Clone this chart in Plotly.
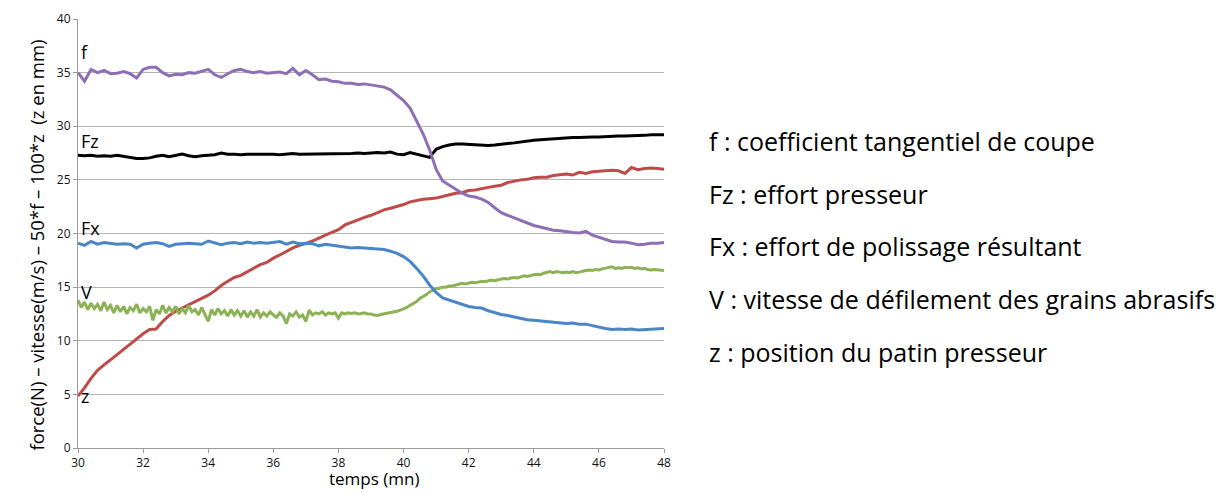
import plotly.graph_objects as go

# time axis shared by f, Fz, Fx, z (minutes, step 0.2)
temps = [round(30 + 0.2 * i, 1) for i in range(91)]
# time axis for V (finer, step 0.1)
temps_v = [round(30 + 0.1 * i, 1) for i in range(181)]

f_vals = [
    35.0, 34.2, 35.3, 35.0, 35.2, 34.9, 34.95, 35.1, 34.9, 34.5,
    35.3, 35.5, 35.5, 35.0, 34.7, 34.85, 34.8, 35.0, 34.95, 35.1,
    35.3, 34.8, 34.55, 34.9, 35.2, 35.3, 35.1, 35.0, 35.1, 34.95,
    35.0, 35.05, 34.9, 35.4, 34.8, 35.2, 34.8, 34.35, 34.4, 34.2,
    34.15, 34.0, 34.0, 33.9, 33.95, 33.85, 33.75, 33.65, 33.4, 32.9,
    32.4, 31.7, 30.5, 29.3, 27.8, 26.0, 24.9, 24.5, 24.1, 23.75,
    23.5, 23.4, 23.2, 22.9, 22.4, 21.95, 21.7, 21.45, 21.2, 20.95,
    20.75, 20.6, 20.45, 20.3, 20.25, 20.15, 20.1, 20.05, 20.2, 19.85,
    19.65, 19.45, 19.25, 19.2, 19.2, 19.1, 18.95, 19.0, 19.1, 19.1,
    19.15,
]

fz_vals = [
    27.3, 27.25, 27.3, 27.2, 27.25, 27.2, 27.3, 27.2, 27.1, 27.0,
    27.0, 27.05, 27.2, 27.3, 27.15, 27.3, 27.4, 27.25, 27.15, 27.25,
    27.3, 27.35, 27.5, 27.4, 27.4, 27.35, 27.4, 27.4, 27.45, 27.4,
    27.4, 27.35, 27.4, 27.45, 27.4, 27.4, 27.45, 27.4, 27.45, 27.45,
    27.4, 27.45, 27.45, 27.5, 27.45, 27.5, 27.55, 27.5, 27.6, 27.4,
    27.35, 27.55, 27.4, 27.3, 27.1, 27.85, 28.1, 28.25, 28.35, 28.35,
    28.3, 28.25, 28.2, 28.2, 28.25, 28.35, 28.4, 28.45, 28.55, 28.65,
    28.7, 28.75, 28.8, 28.85, 28.9, 28.9, 28.95, 28.95, 29.0, 29.0,
    29.0, 29.05, 29.05, 29.1, 29.1, 29.1, 29.15, 29.15, 29.2, 29.2,
    29.2,
]

fx_vals = [
    19.1, 18.9, 19.25, 19.0, 19.15, 19.05, 19.0, 19.05, 19.0, 18.65,
    19.0, 19.1, 19.15, 19.05, 18.8, 19.0, 19.05, 19.1, 19.05, 19.0,
    19.3, 19.1, 18.95, 19.1, 19.15, 19.05, 19.2, 19.1, 19.15, 19.1,
    19.15, 19.25, 19.0, 19.2, 19.05, 19.1, 19.05, 18.85, 19.0, 18.9,
    18.85, 18.7, 18.65, 18.7, 18.65, 18.6, 18.55, 18.5, 18.35, 18.15,
    17.85, 17.4, 16.75, 16.05, 15.2, 14.5, 14.0, 13.8, 13.65, 13.45,
    13.2, 13.1, 13.05, 12.8, 12.6, 12.45, 12.35, 12.2, 12.05, 11.95,
    11.9, 11.85, 11.8, 11.75, 11.65, 11.6, 11.65, 11.55, 11.55, 11.4,
    11.25, 11.15, 11.05, 11.1, 11.05, 11.1, 11.0, 11.05, 11.1, 11.1,
    11.15,
]

z_vals = [
    4.85, 5.6, 6.5, 7.25, 7.75, 8.2, 8.7, 9.2, 9.7, 10.2,
    10.65, 11.05, 11.1, 11.8, 12.35, 12.75, 13.05, 13.35, 13.65, 13.95,
    14.25, 14.65, 15.15, 15.55, 15.9, 16.1, 16.45, 16.75, 17.1, 17.3,
    17.7, 18.0, 18.35, 18.65, 18.9, 19.05, 19.3, 19.6, 19.85, 20.1,
    20.35, 20.8, 21.05, 21.3, 21.5, 21.7, 21.95, 22.2, 22.35, 22.5,
    22.7, 22.95, 23.1, 23.2, 23.25, 23.3, 23.45, 23.6, 23.75, 23.8,
    24.0, 24.05, 24.2, 24.3, 24.4, 24.5, 24.75, 24.9, 25.0, 25.05,
    25.2, 25.25, 25.25, 25.4, 25.45, 25.55, 25.45, 25.7, 25.6, 25.75,
    25.8, 25.85, 25.9, 25.85, 25.6, 26.15, 25.95, 26.05, 26.1, 26.05,
    26.0,
]

v_vals = [
    13.8, 13.1, 13.6, 12.9, 13.5, 13.0, 13.4, 12.8, 13.6, 12.9, 13.3,
    12.6, 13.3, 12.7, 13.2, 12.5, 13.1, 12.8, 13.4, 12.6, 13.0,
    12.7, 13.2, 11.9, 12.9, 12.5, 13.3, 12.6, 13.1, 12.7, 13.2,
    12.5, 13.0, 12.6, 13.3, 12.7, 12.9, 12.4, 13.1, 12.5, 11.8,
    12.9, 12.4, 13.0, 12.5, 12.8, 12.3, 12.9, 12.4, 12.8, 12.3,
    12.8, 12.2, 12.7, 12.3, 12.9, 12.2, 12.6, 12.3, 12.7, 12.4,
    12.2, 12.6, 12.3, 11.6, 12.5, 12.3, 12.7, 12.2, 12.4, 11.8,
    12.85, 12.4, 12.6, 12.5, 12.7, 12.4, 12.6, 12.5, 12.6, 12.1,
    12.6, 12.5, 12.6, 12.55, 12.6, 12.5, 12.55, 12.6, 12.5, 12.5,
    12.4, 12.35, 12.45, 12.5, 12.55, 12.6, 12.7, 12.75, 12.85, 12.95,
    13.1, 13.3, 13.45, 13.65, 13.95, 14.1, 14.3, 14.55, 14.7, 14.85,
    14.9, 15.0, 15.0, 15.1, 15.1, 15.2, 15.25, 15.35, 15.3, 15.4,
    15.45, 15.4, 15.5, 15.55, 15.5, 15.6, 15.65, 15.6, 15.7, 15.75,
    15.8, 15.75, 15.85, 15.9, 15.85, 15.95, 16.05, 16.0, 16.1, 16.15,
    16.2, 16.15, 16.3, 16.35, 16.45, 16.35, 16.45, 16.4, 16.35, 16.4,
    16.35, 16.45, 16.35, 16.4, 16.5, 16.55, 16.6, 16.55, 16.65, 16.6,
    16.7, 16.75, 16.8, 16.9, 16.75, 16.8, 16.75, 16.85, 16.8, 16.85,
    16.75, 16.8, 16.7, 16.75, 16.65, 16.6, 16.65, 16.6, 16.55, 16.55,
]

series_labels = ["f", "Fz", "Fx", "V", "z"]
label_y = [36.9, 28.6, 20.5, 14.55, 4.85]
legend_lines = [
    "f : coefficient tangentiel de coupe",
    "Fz : effort presseur",
    "Fx : effort de polissage résultant",
    "V : vitesse de défilement des grains abrasifs",
    "z : position du patin presseur",
]
y_ticks = list(range(0, 41, 5))
x_ticks = list(range(30, 49, 2))

FONT = "Open Sans"

fig = go.Figure()
traces = [
    (temps, z_vals, "#BE4B48"),
    (temps_v, v_vals, "#8DB255"),
    (temps, fx_vals, "#4A86C5"),
    (temps, fz_vals, "#000000"),
    (temps, f_vals, "#8E6EB4"),
]
for xs, ys, col in traces:
    fig.add_trace(go.Scatter(x=xs, y=ys, mode="lines",
                             line=dict(color=col, width=3), showlegend=False))

for lab, ly in zip(series_labels, label_y):
    fig.add_annotation(x=30.02, y=ly, text=lab, showarrow=False, xanchor="left",
                       font=dict(family=FONT, size=18, color="#000"))

for i, line in enumerate(legend_lines):
    fig.add_annotation(xref="paper", yref="paper", x=1.073, y=0.7156 - i * 0.1228,
                       text=line, showarrow=False, xanchor="left", yanchor="middle",
                       font=dict(family=FONT, size=25, color="#000"))

fig.add_annotation(xref="paper", yref="paper", x=-0.0956, y=0.473, textangle=-90,
                   text="force(N) – vitesse(m/s) – 50*f – 100*z  (z en mm)",
                   showarrow=False, font=dict(family=FONT, size=18.5, color="#000"))
fig.add_annotation(xref="paper", yref="paper", x=0.505, y=-0.1026, yanchor="bottom",
                   text="temps (mn)", showarrow=False,
                   font=dict(family=FONT, size=17, color="#000"))

# the page body adds an 8px offset, so the figure is shrunk by that amount
fig.update_layout(
    width=1221, height=484,
    margin=dict(l=70, r=565, t=11, b=44, autoexpand=False),
    plot_bgcolor="white", paper_bgcolor="white",
    font=dict(family=FONT, size=12, color="#111"),
)
fig.update_xaxes(range=[30, 48], tickvals=x_ticks, showgrid=False, zeroline=False,
                 showline=True, linecolor="#9A9A9A", linewidth=1,
                 ticks="outside", ticklen=4, tickcolor="#9A9A9A",
                 tickfont=dict(family=FONT, size=12, color="#111"))
fig.update_yaxes(range=[0, 40], tickvals=y_ticks, showgrid=True, gridcolor="#B4B4B4",
                 gridwidth=1, zeroline=False, showline=True, linecolor="#9A9A9A",
                 ticks="outside", ticklen=4, tickcolor="#9A9A9A",
                 tickfont=dict(family=FONT, size=12, color="#111"))

fig.write_html("out.html")
